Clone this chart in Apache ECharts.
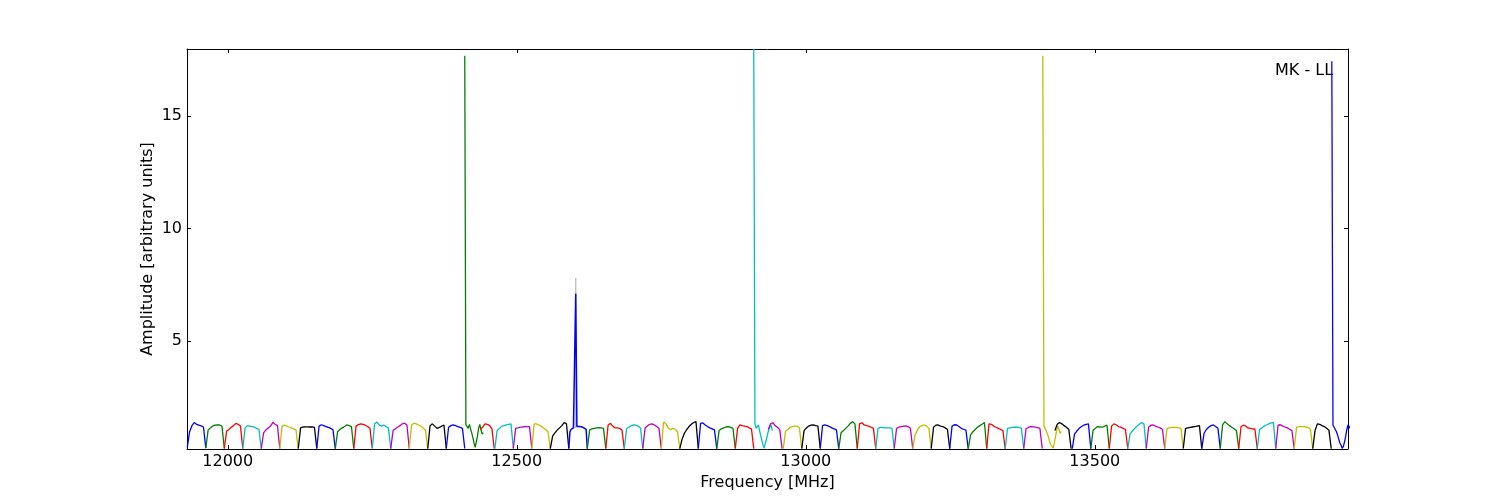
<!DOCTYPE html>
<html>
<head>
<meta charset="utf-8">
<title>MK - LL bandpass</title>
<script src="https://cdn.jsdelivr.net/npm/echarts@6/dist/echarts.min.js"></script>
<style>
  html, body { margin: 0; padding: 0; background: #fff; }
  #chart { width: 1500px; height: 500px; }
</style>
</head>
<body>
<div id="chart"></div>
<script>
// tick labels
var xTicks = [12000, 12500, 13000, 13500];
var yTicks = [5, 10, 15];

// matplotlib classic colour cycle b g r c m y k
var cycleColors = ['#0000ff', '#008000', '#ff0000', '#00bfbf', '#bf00bf', '#bfbf00', '#000000'];

// start frequency of every channel [MHz]
var chanStart = [
  11930, 11962, 11994, 12026, 12058, 12090, 12122, 12154, 12186, 12218,
  12250, 12282, 12314, 12346, 12378, 12410, 12437, 12462, 12494, 12526,
  12558, 12590, 12622, 12654, 12686, 12718, 12750, 12782, 12814, 12846,
  12878, 12910, 12935, 12961, 12993, 13025, 13057, 13089, 13121, 13153,
  13185, 13217, 13249, 13281, 13313, 13345, 13377, 13410, 13431, 13461,
  13493, 13525, 13557, 13589, 13621, 13653, 13685, 13717, 13749, 13781,
  13813, 13845, 13877, 13910
];

// amplitudes per channel, 4 MHz apart (17-point channels are 2 MHz apart)
var chanAmp = [
  [0.25, 0.95, 1.22, 1.36, 1.28, 1.24, 1.21, 1.16, 0.22],
  [0.22, 1.02, 1.12, 1.2, 1.24, 1.25, 1.25, 1.2, 0.2],
  [0.2, 0.98, 1.05, 1.15, 1.22, 1.32, 1.28, 1.2, 0.2],
  [0.2, 1.12, 1.22, 1.2, 1.18, 1.15, 1.1, 1.05, 0.2],
  [0.2, 0.9, 1.03, 1.12, 1.2, 1.37, 1.28, 1.22, 0.2],
  [0.2, 1.2, 1.25, 1.2, 1.16, 1.12, 1.08, 1.03, 0.2],
  [0.2, 1.12, 1.16, 1.17, 1.17, 1.16, 1.17, 1.14, 0.2],
  [0.2, 1.2, 1.26, 1.22, 1.18, 1.14, 1.1, 1.04, 0.2],
  [0.2, 0.95, 1.05, 1.12, 1.18, 1.25, 1.22, 1.18, 0.2],
  [0.2, 1.2, 1.27, 1.3, 1.28, 1.24, 1.18, 1.1, 0.2],
  [0.22, 1.3, 1.38, 1.25, 1.2, 1.25, 1.18, 1.1, 0.2],
  [0.2, 1.0, 1.08, 1.16, 1.22, 1.3, 1.33, 1.25, 0.2],
  [0.2, 1.25, 1.33, 1.3, 1.25, 1.2, 1.12, 1.03, 0.2],
  [0.2, 1.22, 1.3, 1.2, 1.1, 1.14, 1.2, 1.25, 0.2],
  [0.2, 1.15, 1.22, 1.25, 1.22, 1.18, 1.14, 1.1, 0.2],
  [17.7, 1.25, 1.2, 1.1, 1.28, 1.22, 0.9, 0.7, 0.45, 0.25, 0.5, 0.75, 1.1, 1.28, 1.05, 0.85, 0.9],
  [1.05, 1.15, 1.3, 1.28, 1.22, 1.08, 0.2],
  [0.2, 1.0, 1.1, 1.2, 1.22, 1.25, 1.28, 1.3, 0.2],
  [0.2, 1.1, 1.12, 1.15, 1.16, 1.18, 1.18, 1.18, 0.2],
  [0.2, 1.3, 1.3, 1.25, 1.2, 1.12, 1.05, 0.95, 0.2],
  [0.2, 0.75, 0.9, 1.02, 1.12, 1.22, 1.36, 1.3, 0.2],
  [0.2, 0.95, 1.05, 1.1, 1.12, 1.15, 7.1, 1.18, 1.2, 1.18, 1.2, 1.17, 1.15, 1.12, 1.1, 1.05, 0.2],
  [0.2, 1.02, 1.08, 1.1, 1.12, 1.13, 1.12, 1.1, 0.2],
  [0.2, 1.25, 1.32, 1.2, 1.12, 1.12, 1.1, 1.03, 0.2],
  [0.2, 1.08, 1.15, 1.22, 1.25, 1.24, 1.2, 1.12, 0.2],
  [0.2, 1.12, 1.2, 1.28, 1.3, 1.25, 1.18, 1.1, 0.2],
  [0.2, 1.38, 1.3, 1.12, 1.04, 1.1, 1.06, 0.95, 0.2],
  [0.2, 0.62, 0.88, 1.05, 1.18, 1.28, 1.36, 1.4, 0.2],
  [0.2, 1.32, 1.34, 1.25, 1.18, 1.12, 1.08, 1.03, 0.2],
  [0.2, 1.0, 1.08, 1.12, 1.16, 1.18, 1.14, 1.1, 0.2],
  [0.2, 1.1, 1.25, 1.22, 1.2, 1.18, 1.12, 1.08, 0.2],
  [18.0, 1.3, 1.1, 1.03, 1.25, 1.0, 0.78, 0.55, 0.35, 0.22, 0.45, 0.62, 0.85, 1.05, 1.15, 1.25, 1.0],
  [1.05, 1.3, 1.35, 1.22, 1.15, 1.03, 0.2],
  [0.2, 0.98, 1.05, 1.15, 1.18, 1.2, 1.2, 1.12, 0.2],
  [0.2, 1.0, 1.12, 1.2, 1.24, 1.25, 1.22, 1.2, 0.2],
  [0.2, 1.22, 1.25, 1.22, 1.18, 1.12, 1.08, 1.03, 0.2],
  [0.2, 0.9, 1.0, 1.1, 1.2, 1.32, 1.4, 1.3, 0.2],
  [0.2, 1.3, 1.35, 1.25, 1.22, 1.2, 1.15, 1.1, 0.2],
  [0.2, 1.1, 1.14, 1.14, 1.12, 1.12, 1.12, 1.1, 0.2],
  [0.2, 1.1, 1.15, 1.18, 1.2, 1.21, 1.18, 1.1, 0.2],
  [0.2, 0.8, 1.02, 1.18, 1.22, 1.25, 1.2, 1.1, 0.2],
  [0.2, 1.15, 1.24, 1.25, 1.2, 1.18, 1.12, 1.06, 0.2],
  [0.2, 1.2, 1.26, 1.25, 1.18, 1.1, 1.06, 1.02, 0.2],
  [0.2, 0.8, 0.95, 1.05, 1.15, 1.22, 1.28, 1.36, 0.2],
  [0.2, 1.3, 1.28, 1.2, 1.15, 1.1, 1.05, 1.0, 0.2],
  [0.2, 1.1, 1.12, 1.14, 1.15, 1.15, 1.14, 1.1, 0.2],
  [0.2, 1.08, 1.14, 1.18, 1.17, 1.15, 1.13, 1.1, 0.2],
  [17.7, 1.2, 1.1, 1.0, 0.85, 0.7, 0.5, 0.38, 0.3, 0.22, 0.45, 0.73, 1.0, 1.2, 1.05, 0.88, 0.95],
  [1.0, 1.28, 1.36, 1.3, 1.22, 1.15, 1.05, 0.2],
  [0.2, 0.85, 0.98, 1.1, 1.18, 1.24, 1.28, 1.3, 0.2],
  [0.2, 1.02, 1.1, 1.18, 1.16, 1.15, 1.2, 1.25, 0.2],
  [0.2, 1.2, 1.3, 1.26, 1.18, 1.15, 1.1, 1.05, 0.2],
  [0.2, 0.85, 0.98, 1.1, 1.2, 1.28, 1.36, 1.3, 0.2],
  [0.2, 1.15, 1.24, 1.25, 1.2, 1.16, 1.12, 1.06, 0.2],
  [0.2, 1.1, 1.12, 1.14, 1.14, 1.14, 1.13, 1.1, 0.2],
  [0.2, 1.1, 1.12, 1.14, 1.16, 1.18, 1.2, 1.22, 0.2],
  [0.2, 0.88, 1.05, 1.15, 1.22, 1.25, 1.18, 1.1, 0.2],
  [0.2, 1.25, 1.4, 1.3, 1.22, 1.15, 1.08, 1.0, 0.2],
  [0.2, 1.18, 1.24, 1.2, 1.12, 1.1, 1.08, 1.06, 0.2],
  [0.2, 1.05, 1.12, 1.2, 1.25, 1.3, 1.34, 1.36, 0.2],
  [0.2, 1.24, 1.26, 1.2, 1.16, 1.12, 1.06, 1.0, 0.2],
  [0.2, 1.15, 1.18, 1.18, 1.18, 1.16, 1.14, 1.06, 0.2],
  [0.2, 1.0, 1.3, 1.28, 1.22, 1.18, 1.1, 1.02, 0.2],
  [17.45, 1.25, 1.18, 1.05, 0.95, 0.8, 0.62, 0.45, 0.35, 0.21, 0.3, 0.5, 0.75, 1.05, 1.25, 1.2, 1.1]
];

// grey reference trace under the 12602 MHz line
var greyFreq = [12601, 12602, 12603];
var greyAmp = [1.1, 7.8, 1.15];

var chart = echarts.init(document.getElementById('chart'));
var FONT = 'DejaVu Sans';

var series = [];
// grey trace first so the blue channel sits on top of it
series.push({
  type: 'line',
  data: greyFreq.map(function (f, j) { return [f, greyAmp[j]]; }),
  symbol: 'none',
  lineStyle: {color: '#bebebe', width: 1.3},
  silent: true
});

chanAmp.forEach(function (amps, i) {
  var step = amps.length === 17 ? 2 : 4;
  var start = chanStart[i];
  series.push({
    type: 'line',
    data: amps.map(function (v, j) { return [start + j * step, v]; }),
    symbol: 'none',
    clip: true,
    lineStyle: {color: cycleColors[i % 7], width: i === 21 ? 1.5 : 1.3},
    silent: true
  });
});

function frameAxis(pos, showLabel, ticks) {
  return {
    type: 'value',
    position: pos,
    axisLine: {show: true, onZero: false, lineStyle: {color: '#000', width: 1}},
    axisTick: {show: true, inside: true, length: 4, customValues: ticks, lineStyle: {color: '#000'}},
    axisLabel: {
      show: showLabel, customValues: ticks, color: '#000', fontSize: 16, fontFamily: FONT, margin: 5,
      formatter: function (v) { return String(v); }
    },
    splitLine: {show: false}
  };
}

var xBottom = Object.assign(frameAxis('bottom', true, xTicks), {
  min: 11929.5, max: 13938,
  name: 'Frequency [MHz]', nameLocation: 'middle', nameGap: 26, nameMoveOverlap: false,
  nameTextStyle: {color: '#000', fontSize: 16, fontFamily: FONT}
});
var xTop = Object.assign(frameAxis('top', false, xTicks), {min: 11929.5, max: 13938});
var yLeft = Object.assign(frameAxis('left', true, yTicks), {
  min: 0.18, max: 18.0,
  name: 'Amplitude [arbitrary units]', nameLocation: 'middle', nameGap: 31, nameMoveOverlap: false,
  nameTextStyle: {color: '#000', fontSize: 16, fontFamily: FONT}
});
var yRight = Object.assign(frameAxis('right', false, yTicks), {min: 0.18, max: 18.0});

chart.setOption({
  animation: false,
  backgroundColor: '#fff',
  grid: {left: 187, right: 152, top: 49, bottom: 51, containLabel: false},
  xAxis: [xBottom, xTop],
  yAxis: [yLeft, yRight],
  graphic: [{
    type: 'text',
    left: 1275, top: 63,
    style: {text: 'MK - LL', fill: '#000', font: '16px "DejaVu Sans"'}
  }],
  series: series
});
</script>
</body>
</html>
